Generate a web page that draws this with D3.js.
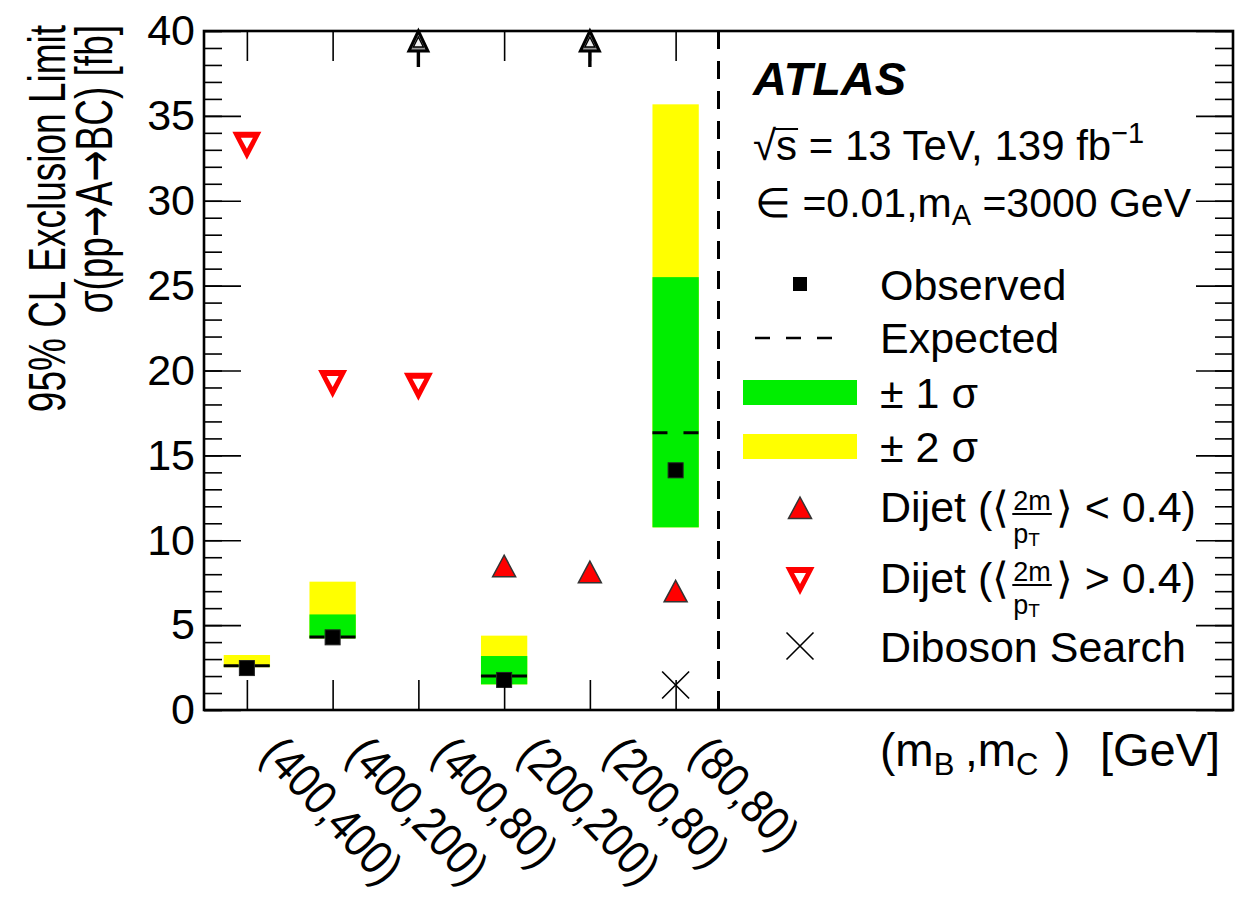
<!DOCTYPE html>
<html>
<head>
<meta charset="utf-8">
<script src="https://cdn.jsdelivr.net/npm/d3@7"></script>
<style>
  body { margin: 0; background: #fff; }
  text { font-family: "Liberation Sans", Arial, Helvetica, sans-serif; fill: #000; }
  .sym { font-family: "DejaVu Sans", sans-serif; }
</style>
</head>
<body>
<svg id="chart" width="1241" height="897"></svg>
<script>
// ── Data ───────────────────────────────────────────────────
var categories = ["(400,400)", "(400,200)", "(400,80)", "(200,200)", "(200,80)", "(80,80)"];
var observed   = [2.47, 4.28, null, 1.77, null, 14.12];
var expected   = [2.60, 4.30, null, 2.00, null, 16.34];
var sigma1Lo   = [2.56, 4.22, null, 1.51, null, 10.76];
var sigma1Hi   = [2.64, 5.63, null, 3.18, null, 25.50];
var sigma2Lo   = [2.52, 4.22, null, 1.51, null, 10.76];
var sigma2Hi   = [3.24, 7.56, null, 4.38, null, 35.68];
var dijetLow   = [null, null, null, 8.47, 8.12, 6.99];   // <2m/pT> < 0.4
var dijetHigh  = [33.24, 19.20, 19.05, null, null, null]; // <2m/pT> > 0.4
var diboson    = [null, null, null, null, null, 1.47];
var offScale   = [false, false, true, false, true, false]; // limit above plotted range
var yMajor     = [0, 5, 10, 15, 20, 25, 30, 35, 40];

(function () {
  var svg = d3.select("#chart");
  var X0 = 204, X1 = 1233, Y0 = 31, Y1 = 710;
  var x = d3.scaleLinear().domain([0, 12]).range([X0, X1]);
  var y = d3.scaleLinear().domain([0, 40]).range([Y1, Y0]);
  var half = 0.27;
  var GREEN = "#00ee00", YELLOW = "#ffff00", RED = "#ff0000";

  var rows = categories.map(function (c, i) {
    return { i: i, c: i + 0.5, name: c, obs: observed[i], exp: expected[i],
      s1lo: sigma1Lo[i], s1hi: sigma1Hi[i], s2lo: sigma2Lo[i], s2hi: sigma2Hi[i],
      dl: dijetLow[i], dh: dijetHigh[i], dib: diboson[i], off: offScale[i] };
  });
  function has(k) { return rows.filter(function (d) { return d[k] != null; }); }

  var plot = svg.append("g");

  // ±2σ and ±1σ bands
  plot.selectAll(".s2").data(has("s2hi")).join("rect")
    .attr("x", function (d) { return x(d.c - half); })
    .attr("width", function (d) { return x(d.c + half) - x(d.c - half); })
    .attr("y", function (d) { return y(d.s2hi); })
    .attr("height", function (d) { return y(d.s2lo) - y(d.s2hi); })
    .attr("fill", YELLOW);
  plot.selectAll(".s1").data(has("s1hi")).join("rect")
    .attr("x", function (d) { return x(d.c - half); })
    .attr("width", function (d) { return x(d.c + half) - x(d.c - half); })
    .attr("y", function (d) { return y(d.s1hi); })
    .attr("height", function (d) { return y(d.s1lo) - y(d.s1hi); })
    .attr("fill", GREEN);

  // expected (dashed)
  plot.selectAll(".exp").data(has("exp")).join("line")
    .attr("x1", function (d) { return x(d.c - half); })
    .attr("x2", function (d) { return x(d.c + half); })
    .attr("y1", function (d) { return y(d.exp); })
    .attr("y2", function (d) { return y(d.exp); })
    .attr("stroke", "#000").attr("stroke-width", 3).attr("stroke-dasharray", "15,16");

  // observed squares
  plot.selectAll(".obs").data(has("obs")).join("rect")
    .attr("x", function (d) { return x(d.c) - 7.5; })
    .attr("y", function (d) { return y(d.obs) - 7.5; })
    .attr("width", 15).attr("height", 15)
    .attr("fill", "#000").attr("stroke", "#222").attr("stroke-width", 1);

  var upTri = "M0,-11L11.5,10.5L-11.5,10.5Z";
  var dnTri = "M-14.5,-14L14.5,-14L0,14ZM-6,-8L6,-8L0,3Z";
  var cross = "M-13.5,-13.5L13.5,13.5M13.5,-13.5L-13.5,13.5";

  plot.selectAll(".dl").data(has("dl")).join("path")
    .attr("transform", function (d) { return "translate(" + x(d.c) + "," + y(d.dl) + ")"; })
    .attr("d", upTri).attr("fill", RED).attr("stroke", "#333").attr("stroke-width", 1.5);
  plot.selectAll(".dh").data(has("dh")).join("path")
    .attr("transform", function (d) { return "translate(" + x(d.c) + "," + y(d.dh) + ")"; })
    .attr("d", dnTri).attr("fill", RED).attr("fill-rule", "evenodd");
  plot.selectAll(".dib").data(has("dib")).join("path")
    .attr("transform", function (d) { return "translate(" + x(d.c) + "," + y(d.dib) + ")"; })
    .attr("d", cross).attr("fill", "none").attr("stroke", "#000").attr("stroke-width", 1.6);

  // vertical dashed separator
  svg.append("line").attr("x1", x(6)).attr("x2", x(6)).attr("y1", Y0).attr("y2", Y1)
    .attr("stroke", "#000").attr("stroke-width", 3).attr("stroke-dasharray", "18,12");

  // ── Axes (ticks inside frame) ──
  function clean(g) { g.select(".domain").remove(); g.selectAll("line").attr("stroke", "#000").attr("stroke-width", 1.6); }
  svg.append("g").attr("transform", "translate(" + X0 + ",0)")
    .call(d3.axisRight(y).ticks(40).tickSize(18).tickFormat("")).call(clean);
  svg.append("g").attr("transform", "translate(" + X0 + ",0)")
    .call(d3.axisRight(y).tickValues(yMajor).tickSize(37).tickFormat("")).call(clean);
  svg.append("g").attr("transform", "translate(" + X1 + ",0)")
    .call(d3.axisLeft(y).ticks(40).tickSize(18).tickFormat("")).call(clean);
  svg.append("g").attr("transform", "translate(" + X1 + ",0)")
    .call(d3.axisLeft(y).tickValues(yMajor).tickSize(37).tickFormat("")).call(clean);
  var centers = rows.map(function (d) { return d.c; });
  svg.append("g").attr("transform", "translate(0," + Y1 + ")")
    .call(d3.axisTop(x).tickValues(centers).tickSize(30).tickFormat("")).call(clean);
  svg.append("g").attr("transform", "translate(0," + Y0 + ")")
    .call(d3.axisBottom(x).tickValues(centers).tickSize(30).tickFormat("")).call(clean);

  var yl = svg.append("g").attr("transform", "translate(" + X0 + ",0)")
    .call(d3.axisLeft(y).tickValues(yMajor).tickSize(0).tickPadding(9));
  yl.select(".domain").remove();
  yl.selectAll("text").style("font-size", "43px").style("font-family", "'Liberation Sans', Arial, sans-serif");

  svg.append("rect").attr("x", X0).attr("y", Y0).attr("width", X1 - X0).attr("height", Y1 - Y0)
    .attr("fill", "none").attr("stroke", "#000").attr("stroke-width", 2.6);

  // off-scale arrows
  var arr = svg.selectAll(".arr").data(rows.filter(function (d) { return d.off; })).join("g")
    .attr("transform", function (d) { return "translate(" + x(d.c) + "," + y(40) + ")"; });
  arr.append("line").attr("x1", 0).attr("x2", 0).attr("y1", 18).attr("y2", 36)
    .attr("stroke", "#000").attr("stroke-width", 3.4);
  arr.append("path").attr("d", "M0,0L9.5,20L-9.5,20Z").attr("fill", "#999").attr("stroke", "#000").attr("stroke-width", 3);
  arr.append("path").attr("d", "M0,6L5,16L-5,16Z").attr("fill", "#eee").attr("stroke", "#000").attr("stroke-width", 1.4);

  // x category labels
  svg.selectAll(".xl").data(rows).join("text")
    .attr("transform", function (d) { return "translate(" + (x(d.c) + 12) + ",756) rotate(47) scale(1,1.15)"; })
    .style("font-size", "42px").text(function (d) { return d.name; });

  // axis titles
  svg.append("text").attr("transform", "translate(65,25) rotate(-90) scale(1,1.4)")
    .attr("text-anchor", "end").style("font-size", "37px").text("95% CL Exclusion Limit");
  var t2 = svg.append("text").attr("transform", "translate(112,25) rotate(-90) scale(1,1.4)")
    .attr("text-anchor", "end").style("font-size", "37px");
  t2.append("tspan").text("σ(pp");
  t2.append("tspan").attr("class", "sym").text("→");
  t2.append("tspan").text("A");
  t2.append("tspan").attr("class", "sym").text("→");
  t2.append("tspan").text("BC) [fb]");

  var xt = svg.append("text").attr("y", 766).style("font-size", "46px");
  xt.append("tspan").attr("x", 880).text("(m");
  xt.append("tspan").attr("dy", 9).style("font-size", "31px").text("B");
  xt.append("tspan").attr("x", 965).attr("dy", -9).text(",m");
  xt.append("tspan").attr("dy", 9).style("font-size", "31px").text("C");
  xt.append("tspan").attr("x", 1055).attr("dy", -9).text(")");
  xt.append("tspan").attr("x", 1100).style("font-size", "47px").text("[GeV]");

  // ATLAS labels
  svg.append("text").attr("x", 753).attr("y", 95).style("font-size", "47px")
    .style("font-weight", "bold").style("font-style", "italic").text("ATLAS");
  var l2 = svg.append("text").attr("x", 753).attr("y", 160).style("font-size", "42px");
  l2.append("tspan").text("√");
  l2.append("tspan").text("s");
  l2.append("tspan").text(" = 13 TeV, 139 fb");
  l2.append("tspan").attr("dy", -17).style("font-size", "29px").text("−1");
  var sx = 753 + l2.node().getSubStringLength(0, 1);
  var sw = l2.node().getSubStringLength(1, 1);
  svg.append("line").attr("x1", sx - 1).attr("x2", sx + sw + 1).attr("y1", 129).attr("y2", 129)
    .attr("stroke", "#000").attr("stroke-width", 2);
  var l3 = svg.append("text").attr("x", 755).attr("y", 217).style("font-size", "41px");
  l3.append("tspan").text("∈ =0.01,m");
  l3.append("tspan").attr("dy", 8).style("font-size", "29px").text("A");
  l3.append("tspan").attr("dy", -8).text(" =3000 GeV");

  // ── Legend ──
  var lg = svg.append("g");
  var sym = 800, tx = 880;
  lg.append("rect").attr("x", sym - 7).attr("y", 277).attr("width", 14).attr("height", 14).attr("fill", "#000");
  lg.append("text").attr("x", tx).attr("y", 300).style("font-size", "43px").text("Observed");
  lg.append("line").attr("x1", 755).attr("x2", 833).attr("y1", 338).attr("y2", 338)
    .attr("stroke", "#000").attr("stroke-width", 2.5).attr("stroke-dasharray", "15,16");
  lg.append("text").attr("x", tx).attr("y", 353).style("font-size", "43px").text("Expected");
  lg.append("rect").attr("x", 743).attr("y", 380).attr("width", 114).attr("height", 25).attr("fill", GREEN);
  lg.append("text").attr("x", tx).attr("y", 408).style("font-size", "43px").text("± 1 σ");
  lg.append("rect").attr("x", 743).attr("y", 434).attr("width", 114).attr("height", 25).attr("fill", YELLOW);
  lg.append("text").attr("x", tx).attr("y", 462).style("font-size", "43px").text("± 2 σ");
  lg.append("path").attr("transform", "translate(" + sym + ",508)").attr("d", upTri)
    .attr("fill", RED).attr("stroke", "#333").attr("stroke-width", 1.5);
  lg.append("path").attr("transform", "translate(" + sym + ",581)").attr("d", dnTri)
    .attr("fill", RED).attr("fill-rule", "evenodd");
  lg.append("path").attr("transform", "translate(" + sym + ",646)").attr("d", cross)
    .attr("fill", "none").attr("stroke", "#000").attr("stroke-width", 1.6);
  lg.append("text").attr("x", tx).attr("y", 662).style("font-size", "43px").text("Diboson Search");

  function measure(str, size) {
    var t = svg.append("text").style("font-size", size + "px").text(str);
    var w = t.node().getComputedTextLength();
    t.remove();
    return w;
  }

  // Dijet (⟨2m/pT⟩ < 0.4) — stacked fraction
  function dijetLabel(yb, rel) {
    var pre = "Dijet (⟨";
    var fx = tx + measure(pre, 43) + 3;
    var fw = Math.max(measure("2m", 27), measure("p", 27) + measure("T", 19)) + 2;
    lg.append("text").attr("x", tx).attr("y", yb).style("font-size", "43px").text(pre);
    lg.append("text").attr("x", fx + 1).attr("y", yb - 12).style("font-size", "27px").text("2m");
    var den = lg.append("text").attr("x", fx + 1).attr("y", yb + 21).style("font-size", "27px");
    den.append("tspan").text("p");
    den.append("tspan").attr("dy", 3).style("font-size", "19px").text("T");
    lg.append("text").attr("x", fx + fw + 4).attr("y", yb).style("font-size", "43px").text("⟩" + rel + "0.4)");
    lg.append("line").attr("x1", fx).attr("x2", fx + fw).attr("y1", yb - 8).attr("y2", yb - 8)
      .attr("stroke", "#000").attr("stroke-width", 2);
  }
  dijetLabel(522, " < ");
  dijetLabel(593, " > ");
})();
</script>
</body>
</html>
